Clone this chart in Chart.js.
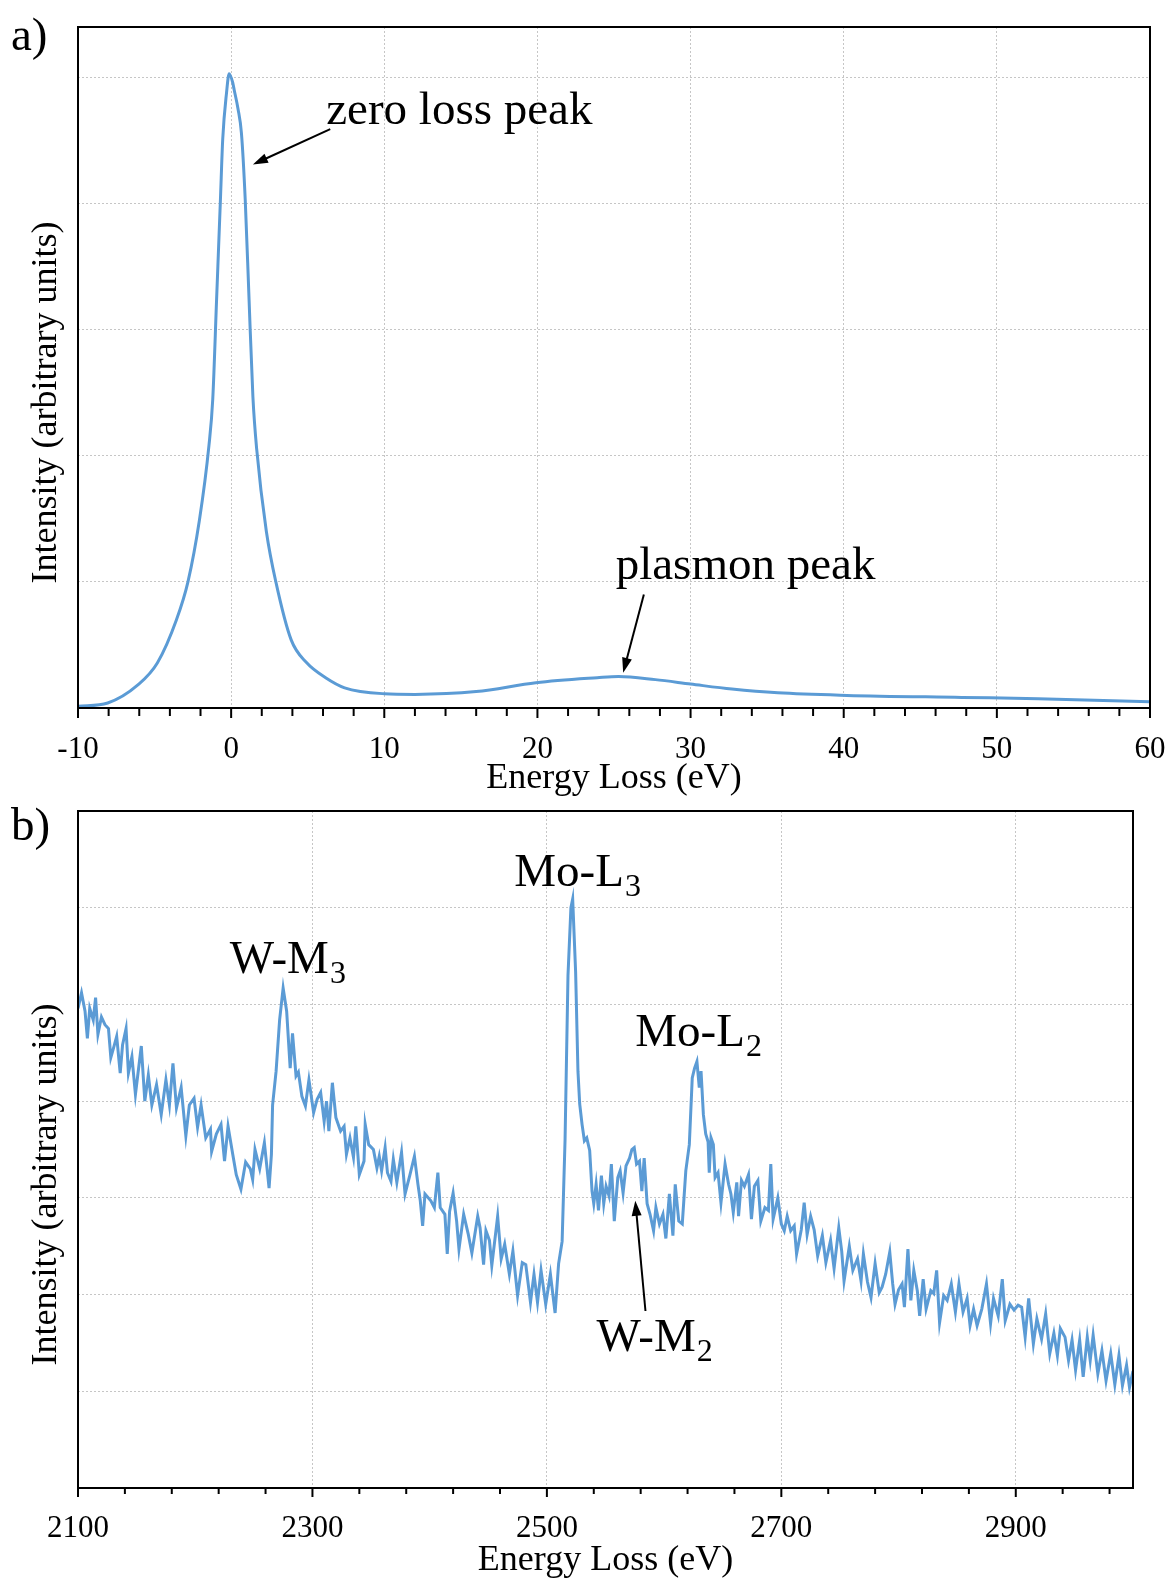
<!DOCTYPE html>
<html>
<head>
<meta charset="utf-8">
<title>EELS spectra</title>
<script src="https://cdn.jsdelivr.net/npm/chart.js@4.4.1/dist/chart.umd.min.js"></script>
<style>
  html, body { margin: 0; padding: 0; background: #fff; }
  body { width: 1171px; height: 1582px; position: relative; overflow: hidden; }
  .panel { position: absolute; left: 0; width: 1171px; }
  #panelA { top: 0; height: 800px; }
  #panelB { top: 790px; height: 792px; }
</style>
</head>
<body>
<div class="panel" id="panelA"><canvas id="chartA"></canvas></div>
<div class="panel" id="panelB"><canvas id="chartB"></canvas></div>
<script>
'use strict';

//////////////// panel a: low loss spectrum ////////////////

const lowLossEnergy = [
  -10, -8.06, -6.07, -4.82, -3.57, -2.82, -2.07, -1.45, -1.2, -0.95,
  -0.7, -0.55, -0.3, -0.13, 0.1, 0.2, 0.45, 0.67, 0.92, 1.17,
  1.42, 1.67, 2.3, 2.92, 3.92, 4.92, 6.17, 7.41, 10, 12,
  16, 19.9, 23.9, 25.3, 27.7, 30, 32.7, 35.7, 40.2, 47.7,
  52.7, 60
];
const lowLossIntensity = [
  0.013, 0.04, 0.185, 0.357, 0.70, 1.0, 1.49, 2.08, 2.45, 3.24,
  4.03, 4.51, 4.88, 5.03, 4.96, 4.90, 4.75, 4.56, 4.03, 3.24,
  2.47, 2.05, 1.40, 1.0, 0.54, 0.36, 0.24, 0.16, 0.113, 0.108,
  0.13, 0.20, 0.24, 0.25, 0.225, 0.19, 0.15, 0.12, 0.10, 0.084,
  0.074, 0.05
];
const lowLossTickLabels = [-10, 0, 10, 20, 30, 40, 50, 60];

//////////////// panel b: core loss spectrum ////////////////

const coreLossEnergy = [
  2100, 2103, 2106, 2108, 2110, 2113, 2115, 2117, 2120, 2123,
  2126, 2128, 2131, 2133, 2136, 2138, 2141, 2143, 2146, 2149,
  2154, 2157, 2160, 2163, 2167, 2171, 2175, 2178, 2181, 2184,
  2188, 2192, 2195, 2199, 2202, 2205, 2209, 2213, 2214, 2218,
  2222, 2225, 2228, 2232, 2235, 2239, 2243, 2247, 2249, 2251,
  2255, 2259, 2263, 2265, 2266, 2269, 2272, 2275, 2278, 2281,
  2283, 2286, 2288, 2291, 2294, 2297, 2301, 2304, 2307, 2310,
  2312, 2314, 2317, 2320, 2324, 2327, 2329, 2332, 2335, 2337,
  2340, 2344, 2345, 2348, 2352, 2355, 2357, 2359, 2362, 2364,
  2367, 2369, 2372, 2376, 2379, 2383, 2387, 2390, 2392, 2394,
  2396, 2401, 2404, 2407, 2409, 2413, 2415, 2417, 2420, 2423,
  2425, 2429, 2433, 2436, 2441, 2443, 2446, 2448, 2451, 2453,
  2458, 2461, 2464, 2468, 2471, 2475, 2479, 2482, 2486, 2489,
  2492, 2495, 2499, 2503, 2507, 2510, 2513, 2515.5, 2518, 2520.5,
  2522, 2524.5, 2526.5, 2528, 2530, 2532, 2534, 2536.5, 2538.5, 2540,
  2542, 2544, 2546.5, 2548.5, 2550.5, 2553, 2555, 2557.5, 2560.5, 2562.5,
  2565, 2567.5, 2570.5, 2572.5, 2574.5, 2576.5, 2579, 2581, 2583, 2585.5,
  2588, 2591, 2593, 2596, 2599, 2601.5, 2604.5, 2607.5, 2609.5, 2612.5,
  2615.5, 2618.5, 2621.5, 2624, 2626, 2628, 2630, 2631.5, 2633.5, 2635.5,
  2637.5, 2638.5, 2640, 2642, 2643.5, 2646, 2648.5, 2652, 2655, 2657,
  2659, 2662, 2663.5, 2666, 2668.5, 2672, 2674.5, 2677, 2680, 2682.5,
  2686, 2689, 2691, 2693, 2697, 2700, 2702.5, 2705, 2708, 2711,
  2713, 2717, 2719.5, 2722, 2725, 2728, 2731, 2735, 2738, 2742,
  2745, 2749, 2751.5, 2753.5, 2758, 2761, 2765, 2768, 2770, 2773.5,
  2776.5, 2780, 2783.5, 2786, 2789, 2792.5, 2795, 2797, 2800, 2803,
  2805, 2808, 2810.5, 2813, 2816, 2818, 2821, 2823.5, 2827.5, 2830,
  2832.5, 2835, 2838.5, 2841.5, 2845, 2848.5, 2851.5, 2855, 2858.5, 2861,
  2864, 2867, 2871, 2875, 2878.5, 2881, 2885, 2888.5, 2891, 2895,
  2898.5, 2902, 2905, 2908, 2911, 2915, 2918, 2922, 2925.5, 2929,
  2932.5, 2935.5, 2938, 2942, 2945, 2948, 2951, 2954.5, 2957.5, 2961,
  2963.5, 2966, 2970, 2973.5, 2977, 2981, 2984.5, 2988, 2991, 2994.5,
  2997, 3000
];
const coreLossIntensity = [
  4.96, 5.12, 4.93, 4.65, 4.96, 4.84, 5.07, 4.69, 4.87, 4.79,
  4.75, 4.45, 4.58, 4.67, 4.29, 4.58, 4.75, 4.29, 4.46, 4.07,
  4.57, 4.00, 4.27, 3.96, 4.17, 3.86, 4.22, 3.96, 4.39, 3.93,
  4.14, 3.64, 3.96, 4.03, 3.73, 3.96, 3.62, 3.71, 3.48, 3.66,
  3.76, 3.38, 3.74, 3.45, 3.24, 3.09, 3.37, 3.30, 3.19, 3.50,
  3.30, 3.57, 3.10, 3.45, 3.96, 4.31, 4.84, 5.17, 4.93, 4.34,
  4.70, 4.26, 4.30, 4.05, 3.95, 4.22, 3.88, 4.02, 4.09, 3.79,
  4.00, 3.69, 4.19, 3.83, 3.69, 3.74, 3.45, 3.62, 3.42, 3.74,
  3.24, 3.38, 3.76, 3.55, 3.50, 3.31, 3.43, 3.28, 3.52, 3.26,
  3.17, 3.40, 3.16, 3.47, 3.04, 3.23, 3.43, 3.14, 2.97, 2.71,
  3.04, 2.97, 2.90, 3.26, 2.90, 2.83, 2.42, 2.86, 3.05, 2.76,
  2.47, 2.83, 2.62, 2.43, 2.81, 2.69, 2.31, 2.66, 2.56, 2.30,
  2.81, 2.37, 2.52, 2.21, 2.45, 1.99, 2.33, 2.31, 1.92, 2.21,
  1.92, 2.25, 1.90, 2.21, 1.81, 2.32, 2.55, 3.60, 5.30, 6.00,
  6.09, 5.34, 4.31, 3.97, 3.76, 3.59, 3.62, 3.49, 3.07, 2.94,
  3.14, 2.87, 3.23, 2.94, 3.12, 3.02, 3.35, 2.76, 3.21, 3.28,
  3.05, 3.33, 3.41, 3.50, 3.52, 3.35, 3.38, 3.07, 3.41, 2.94,
  2.83, 2.66, 2.90, 2.73, 2.83, 2.58, 3.04, 2.61, 3.14, 2.76,
  2.73, 3.28, 3.55, 4.24, 4.34, 4.41, 4.14, 4.31, 3.86, 3.66,
  3.58, 3.26, 3.62, 3.55, 3.21, 3.26, 2.95, 3.35, 3.14, 3.04,
  2.85, 3.16, 2.81, 3.18, 3.12, 3.24, 2.78, 3.12, 3.18, 2.76,
  2.90, 2.87, 3.35, 2.78, 3.00, 2.73, 2.66, 2.81, 2.66, 2.71,
  2.42, 2.67, 2.95, 2.62, 2.81, 2.67, 2.40, 2.61, 2.33, 2.56,
  2.27, 2.69, 2.45, 2.14, 2.50, 2.25, 2.37, 2.14, 2.42, 2.13,
  1.97, 2.32, 2.02, 2.08, 2.21, 2.44, 2.11, 1.90, 2.05, 2.11,
  1.87, 2.47, 1.94, 2.25, 2.04, 1.78, 2.16, 1.85, 2.04, 2.01,
  2.25, 1.71, 1.99, 1.94, 2.11, 1.82, 2.11, 1.82, 1.96, 1.68,
  1.85, 1.68, 1.85, 2.11, 1.70, 1.96, 1.78, 2.16, 1.73, 1.90,
  1.84, 1.89, 1.87, 1.56, 1.96, 1.49, 1.75, 1.54, 1.80, 1.39,
  1.60, 1.37, 1.65, 1.56, 1.32, 1.53, 1.22, 1.53, 1.15, 1.56,
  1.32, 1.58, 1.18, 1.42, 1.11, 1.39, 1.07, 1.37, 1.06, 1.27,
  1.04, 1.21
];
const coreLossTickLabels = [2100, 2300, 2500, 2700, 2900];

//////////////// annotations (data coordinates) ////////////////

const lowLossNotes = [
  { text: 'zero loss peak', x: 6.21, y: 4.63 },
  { text: 'plasmon peak', x: 25.11, y: 1.02 }
];
const lowLossArrows = [
  { from: [6.47, 4.59], to: [1.42, 4.31] },
  { from: [26.95, 0.90], to: [25.6, 0.28] }
];
const coreLossNotes = [
  { text: 'W-M', sub: '3', x: 2229.4, y: 5.32 },
  { text: 'Mo-L', sub: '3', x: 2472.2, y: 6.22 },
  { text: 'Mo-L', sub: '2', x: 2575.4, y: 4.57 },
  { text: 'W-M', sub: '2', x: 2542.3, y: 1.42 }
];
const coreLossArrows = [
  { from: [2584.1, 1.83], to: [2575.4, 2.97] }
];

//////////////// shared look ////////////////

const serif = "'Liberation Serif', 'Times New Roman', serif";
const lineBlue = '#5b9bd5';
const gridGrey = '#c6c6c6';

Chart.defaults.font.family = serif;
Chart.defaults.color = '#000';

function drawArrow(ctx, x1, y1, x2, y2) {
  const ang = Math.atan2(y2 - y1, x2 - x1);
  const head = 15;
  const half = 5;
  const c = Math.cos(ang);
  const s = Math.sin(ang);
  ctx.lineWidth = 2;
  ctx.beginPath();
  ctx.moveTo(x1, y1);
  ctx.lineTo(x2 - head * 0.8 * c, y2 - head * 0.8 * s);
  ctx.stroke();
  ctx.beginPath();
  ctx.moveTo(x2, y2);
  ctx.lineTo(x2 - head * c + half * s, y2 - head * s - half * c);
  ctx.lineTo(x2 - head * c - half * s, y2 - head * s + half * c);
  ctx.closePath();
  ctx.fill();
}

// frame, tick marks, notes, y title and panel letter
function makeFrame(cfg) {
  return {
    id: 'frame',
    afterDatasetsDraw(chart) {
      const ctx = chart.ctx;
      const area = chart.chartArea;
      const x = chart.scales.x;
      const y = chart.scales.y;
      ctx.save();
      ctx.strokeStyle = '#000';
      ctx.fillStyle = '#000';

      // tick marks below the axis
      ctx.lineWidth = 2;
      for (let v = cfg.tickStart; v <= cfg.tickEnd + 1e-6; v += cfg.tickStep) {
        const px = x.getPixelForValue(v);
        const len = cfg.labels.includes(v) ? cfg.majorLen : cfg.minorLen;
        ctx.beginPath();
        ctx.moveTo(px, area.bottom);
        ctx.lineTo(px, area.bottom + len);
        ctx.stroke();
      }

      // box round the plot
      ctx.lineWidth = 2;
      ctx.strokeRect(area.left, area.top, area.right - area.left, area.bottom - area.top);

      // text notes
      ctx.textBaseline = 'alphabetic';
      ctx.textAlign = 'left';
      for (let i = 0; i < cfg.notes.length; i++) {
        const n = cfg.notes[i];
        const px = x.getPixelForValue(n.x);
        const py = y.getPixelForValue(n.y);
        ctx.font = '47px ' + serif;
        ctx.fillText(n.text, px, py);
        if (n.sub) {
          const w = ctx.measureText(n.text).width;
          ctx.font = '32px ' + serif;
          ctx.fillText(n.sub, px + w + 1, py + 10);
        }
      }

      // arrows
      for (let i = 0; i < cfg.arrows.length; i++) {
        const a = cfg.arrows[i];
        drawArrow(ctx,
          x.getPixelForValue(a.from[0]), y.getPixelForValue(a.from[1]),
          x.getPixelForValue(a.to[0]), y.getPixelForValue(a.to[1]));
      }

      // y title
      ctx.save();
      ctx.translate(47, (area.top + area.bottom) / 2 + 35);
      ctx.rotate(-Math.PI / 2);
      ctx.font = '36px ' + serif;
      ctx.textAlign = 'center';
      ctx.textBaseline = 'middle';
      ctx.fillText('Intensity (arbitrary units)', 0, 0);
      ctx.restore();

      // panel letter
      ctx.font = '47px ' + serif;
      ctx.textAlign = 'left';
      ctx.textBaseline = 'alphabetic';
      ctx.fillText(cfg.letter, 11, 50);

      ctx.restore();
    }
  };
}

function xScale(min, max, labels, height, pad) {
  return {
    type: 'linear',
    min: min,
    max: max,
    afterBuildTicks: (axis) => { axis.ticks = labels.map((v) => ({ value: v })); },
    afterFit: (axis) => {
      axis.height = height;
      // end labels may hang past the plot box; keep the box where it is
      axis.paddingLeft = 0;
      axis.paddingRight = 0;
    },
    ticks: {
      padding: pad,
      color: '#000',
      font: { size: 31 },
      maxRotation: 0,
      autoSkip: false,
      callback: (v) => String(v)
    },
    grid: { color: gridGrey, lineWidth: 1, drawTicks: false },
    border: { display: false, dash: [2, 2] },
    title: {
      display: true,
      text: 'Energy Loss (eV)',
      color: '#000',
      font: { size: 36 },
      padding: 0
    }
  };
}

function yScale(max) {
  return {
    min: 0,
    max: max,
    afterFit: (axis) => {
      axis.width = 0;
      axis.paddingTop = 0;
      axis.paddingBottom = 0;
    },
    ticks: { display: false, stepSize: 1 },
    grid: { color: gridGrey, lineWidth: 1, drawTicks: false },
    border: { display: false, dash: [2, 2] }
  };
}

//////////////// chart a ////////////////

new Chart(document.getElementById('chartA'), {
  type: 'line',
  data: {
    datasets: [{
      data: lowLossEnergy.map((e, i) => ({ x: e, y: lowLossIntensity[i] })),
      borderColor: lineBlue,
      borderWidth: 3,
      pointRadius: 0,
      cubicInterpolationMode: 'monotone',
      fill: false
    }]
  },
  options: {
    responsive: true,
    maintainAspectRatio: false,
    animation: false,
    layout: { padding: { left: 78, right: 21, top: 27, bottom: 0 } },
    plugins: { legend: { display: false }, tooltip: { enabled: false } },
    scales: {
      x: xScale(-10, 60, lowLossTickLabels, 92, 23),
      y: yScale(5.4)
    }
  },
  plugins: [makeFrame({
    letter: 'a)',
    tickStart: -10, tickEnd: 60, tickStep: 2,
    labels: lowLossTickLabels, majorLen: 10, minorLen: 8,
    notes: lowLossNotes, arrows: lowLossArrows
  })]
});

//////////////// chart b ////////////////

new Chart(document.getElementById('chartB'), {
  type: 'line',
  data: {
    datasets: [{
      data: coreLossEnergy.map((e, i) => ({ x: e, y: coreLossIntensity[i] })),
      borderColor: lineBlue,
      borderWidth: 3,
      pointRadius: 0,
      tension: 0,
      fill: false
    }]
  },
  options: {
    responsive: true,
    maintainAspectRatio: false,
    animation: false,
    layout: { padding: { left: 78, right: 38, top: 21, bottom: 0 } },
    plugins: { legend: { display: false }, tooltip: { enabled: false } },
    scales: {
      x: xScale(2100, 3000, coreLossTickLabels, 94, 22),
      y: yScale(7)
    }
  },
  plugins: [makeFrame({
    letter: 'b)',
    tickStart: 2100, tickEnd: 2980, tickStep: 40,
    labels: coreLossTickLabels, majorLen: 9, minorLen: 6,
    notes: coreLossNotes, arrows: coreLossArrows
  })]
});
</script>
</body>
</html>
